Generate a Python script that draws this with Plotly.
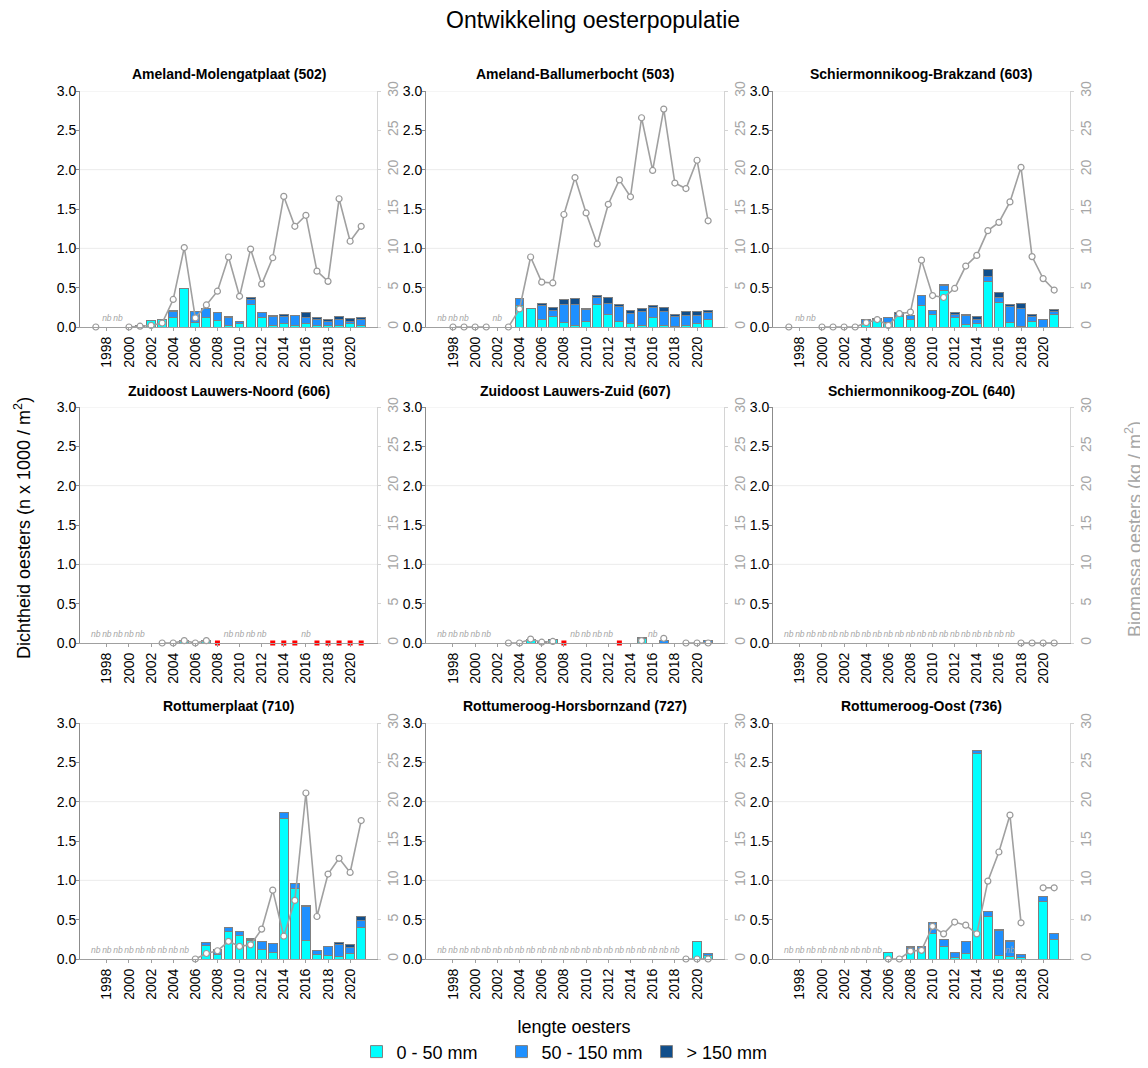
import plotly.graph_objects as go

# years on the x axis (1997 - 2021)
years = list(range(1997, 2022))
N = None

# --- Ameland-Molengatplaat (502) ---
small_502 = [0, N, N, 0, 0, 0.085, 0.10, 0.12, 0.49, 0.055, 0.125, 0.08, 0.015, 0.04, 0.285, 0.12, 0.02, 0.04, 0.015, 0.05, 0.02, 0.015, 0.015, 0.04, 0.02]
mid_502 = [0, N, N, 0, 0.01, 0, 0, 0.08, 0, 0.145, 0.105, 0.105, 0.105, 0.03, 0.065, 0.065, 0.11, 0.09, 0.125, 0.07, 0.08, 0.055, 0.085, 0.035, 0.07]
large_502 = [0, N, N, 0, 0.005, 0, 0, 0.005, 0, 0, 0, 0, 0.01, 0, 0.025, 0, 0.02, 0.035, 0.01, 0.06, 0.025, 0.02, 0.03, 0.035, 0.025]
bio_502 = [0, N, N, 0, 0.1, 0.2, 0.5, 3.5, 10.1, 1.15, 2.8, 4.55, 8.9, 3.9, 9.9, 5.45, 8.8, 16.6, 12.8, 14.2, 7.1, 5.8, 16.3, 10.9, 12.8]
nb_502 = [1998, 1999]
red_502 = []

# --- Ameland-Ballumerbocht (503) ---
small_503 = [N, N, N, 0, 0, N, 0, 0.275, 0.24, 0.095, 0.135, 0.055, 0.02, 0.065, 0.285, 0.16, 0.075, 0.045, 0.015, 0.125, 0.015, 0.005, 0.02, 0.05, 0.10]
mid_503 = [N, N, N, 0, 0, N, 0, 0.09, 0, 0.18, 0.07, 0.235, 0.26, 0.155, 0.095, 0.14, 0.18, 0.125, 0.18, 0.12, 0.185, 0.125, 0.13, 0.10, 0.085]
large_503 = [N, N, N, 0, 0, N, 0, 0, 0, 0.02, 0.045, 0.065, 0.08, 0.02, 0.02, 0.08, 0.03, 0.04, 0.045, 0.025, 0.045, 0.03, 0.045, 0.045, 0.03]
bio_503 = [N, 0, 0, 0, 0, N, 0, 2.3, 8.9, 5.7, 5.6, 14.3, 19.0, 14.5, 10.55, 15.6, 18.7, 16.55, 26.6, 19.9, 27.7, 18.3, 17.6, 21.2, 13.5]
nb_503 = [1997, 1998, 1999, 2002]
red_503 = []

# --- Schiermonnikoog-Brakzand (603) ---
small_603 = [0, N, N, 0, 0, 0, 0, 0.04, 0.095, 0.06, 0.13, 0.10, 0.27, 0.155, 0.46, 0.125, 0.03, 0.045, 0.575, 0.315, 0.06, 0.01, 0.075, 0.0, 0.16]
mid_603 = [0, N, N, 0, 0, 0, 0, 0.05, 0.01, 0.055, 0.03, 0.05, 0.13, 0.06, 0.07, 0.03, 0.11, 0.055, 0.07, 0.065, 0.20, 0.23, 0.06, 0.09, 0.04]
large_603 = [0, N, N, 0, 0, 0, 0, 0.01, 0, 0, 0.02, 0, 0, 0, 0.01, 0.03, 0.02, 0.03, 0.085, 0.06, 0.025, 0.06, 0.025, 0, 0.025]
bio_603 = [0, N, N, 0, 0, 0, 0, 0.55, 0.95, 0.2, 1.7, 1.9, 8.5, 4.0, 3.75, 4.9, 7.75, 9.1, 12.25, 13.3, 15.9, 20.3, 8.95, 6.15, 4.7]
nb_603 = [1998, 1999]
red_603 = []

# --- Zuidoost Lauwers-Noord (606) ---
small_606 = [N, N, N, N, N, N, 0, 0, 0.035, 0, 0.035, N, N, N, N, N, N, N, N, N, N, N, N, N, N]
mid_606 = [N, N, N, N, N, N, 0, 0, 0, 0, 0, N, N, N, N, N, N, N, N, N, N, N, N, N, N]
large_606 = [N, N, N, N, N, N, 0, 0, 0, 0, 0, N, N, N, N, N, N, N, N, N, N, N, N, N, N]
bio_606 = [N, N, N, N, N, N, 0, 0, 0.3, 0, 0.3, N, N, N, N, N, N, N, N, N, N, N, N, N, N]
nb_606 = [1997, 1998, 1999, 2000, 2001, 2009, 2010, 2011, 2012, 2016]
red_606 = [2008, 2013, 2014, 2015, 2017, 2018, 2019, 2020, 2021]

# --- Zuidoost Lauwers-Zuid (607) ---
small_607 = [N, N, N, N, N, N, 0, 0, 0.04, 0, 0.04, N, N, N, N, N, N, N, 0.06, N, 0, N, 0, 0, 0.01]
mid_607 = [N, N, N, N, N, N, 0, 0, 0.01, 0.01, 0, N, N, N, N, N, N, N, 0.015, N, 0.03, N, 0, 0, 0.02]
large_607 = [N, N, N, N, N, N, 0, 0, 0, 0.005, 0, N, N, N, N, N, N, N, 0, N, 0, N, 0, 0, 0]
bio_607 = [N, N, N, N, N, N, 0, 0, 0.5, 0.1, 0.2, N, N, N, N, N, N, N, 0.3, N, 0.6, N, 0, 0, 0]
nb_607 = [1997, 1998, 1999, 2000, 2001, 2009, 2010, 2011, 2012, 2016]
red_607 = [2008, 2013]

# --- Schiermonnikoog-ZOL (640) ---
small_640 = [N] * 21 + [0, 0, 0, 0]
mid_640 = [N] * 21 + [0, 0, 0, 0]
large_640 = [N] * 21 + [0, 0, 0, 0]
bio_640 = [N] * 21 + [0, 0, 0, 0]
nb_640 = list(range(1997, 2018))
red_640 = []

# --- Rottumerplaat (710) ---
small_710 = [N] * 9 + [0, 0.175, 0.06, 0.35, 0.305, 0.235, 0.125, 0.08, 1.785, 0.90, 0.235, 0.055, 0.05, 0.035, 0.065, 0.395]
mid_710 = [N] * 9 + [0, 0.03, 0.04, 0.045, 0.045, 0.01, 0.095, 0.12, 0.075, 0.055, 0.435, 0.05, 0.11, 0.15, 0.085, 0.095]
large_710 = [N] * 9 + [0, 0, 0.015, 0, 0, 0.015, 0.005, 0, 0.005, 0, 0.01, 0.005, 0.005, 0.02, 0.03, 0.055]
bio_710 = [N] * 9 + [0, 0.7, 1.05, 2.25, 1.6, 1.8, 3.8, 8.75, 2.9, 7.45, 21.1, 5.4, 10.8, 12.8, 11.0, 17.6]
nb_710 = list(range(1997, 2006))
red_710 = []

# --- Rottumeroog-Horsbornzand (727) ---
small_727 = [N] * 22 + [0, 0.225, 0.04]
mid_727 = [N] * 22 + [0, 0, 0.024]
large_727 = [N] * 22 + [0, 0, 0]
bio_727 = [N] * 22 + [0, 0, 0]
nb_727 = list(range(1997, 2019))
red_727 = []

# --- Rottumeroog-Oost (736) ---
small_736 = [N] * 9 + [0.08, 0, 0.12, 0.13, 0.33, 0.16, 0.02, 0.065, 2.61, 0.545, 0.045, 0.035, 0.02, N, 0.735, 0.245]
mid_736 = [N] * 9 + [0, 0, 0.03, 0.025, 0.14, 0.085, 0.065, 0.16, 0.04, 0.065, 0.315, 0.19, 0.04, N, 0.06, 0.085]
large_736 = [N] * 9 + [0, 0, 0.005, 0, 0, 0, 0, 0, 0.005, 0, 0.01, 0.005, 0, N, 0, 0]
bio_736 = [N] * 9 + [0, 0, 1.0, 1.1, 4.15, 3.2, 4.7, 4.3, 3.2, 9.9, 13.6, 18.3, 4.6, N, 9.05, 9.05]
nb_736 = list(range(1997, 2006)) + [2017]
red_736 = []

titles = ["Ameland-Molengatplaat (502)", "Ameland-Ballumerbocht (503)", "Schiermonnikoog-Brakzand (603)",
          "Zuidoost Lauwers-Noord (606)", "Zuidoost Lauwers-Zuid (607)", "Schiermonnikoog-ZOL (640)",
          "Rottumerplaat (710)", "Rottumeroog-Horsbornzand (727)", "Rottumeroog-Oost (736)"]
panels = [
    (small_502, mid_502, large_502, bio_502, nb_502, red_502),
    (small_503, mid_503, large_503, bio_503, nb_503, red_503),
    (small_603, mid_603, large_603, bio_603, nb_603, red_603),
    (small_606, mid_606, large_606, bio_606, nb_606, red_606),
    (small_607, mid_607, large_607, bio_607, nb_607, red_607),
    (small_640, mid_640, large_640, bio_640, nb_640, red_640),
    (small_710, mid_710, large_710, bio_710, nb_710, red_710),
    (small_727, mid_727, large_727, bio_727, nb_727, red_727),
    (small_736, mid_736, large_736, bio_736, nb_736, red_736),
]
size_names = ["0 - 50 mm", "50 - 150 mm", "> 150 mm"]
size_colors = ["#00FFFF", "#1E90FF", "#104E8B"]

W, H = 1148, 1068
OFF = 8  # page body margin of the html page
FONT = "Liberation Sans, Arial, sans-serif"
cols_px = [(80, 377), (426, 724), (773, 1070)]
rows_px = [(91, 327), (407, 643), (723, 959)]
title_y_px = [74, 391, 706]


def px_x(x):
    return (x - OFF) / W


def px_y(y):
    return 1 - (y - OFF) / H


fig = go.Figure()
layout = {}
annotations = []
shapes = []

for i, (small, mid, large, bio, nb, red) in enumerate(panels):
    r, c = divmod(i, 3)
    xn = "x" if i == 0 else f"x{i + 1}"
    yl = f"y{2 * i + 1}" if i else "y"
    yr = f"y{2 * i + 2}"
    x0, x1 = cols_px[c]
    ytop, ybot = rows_px[r]

    for vals, name, col in zip((small, mid, large), size_names, size_colors):
        fig.add_trace(go.Bar(
            x=years, y=vals, name=name, xaxis=xn, yaxis=yl,
            marker=dict(color=col, line=dict(color="#808080", width=1)),
            width=0.8, legendgroup=name, showlegend=(i == 0),
            hoverinfo="skip",
        ))

    fig.add_trace(go.Scatter(
        x=nb, y=[0.1] * len(nb), mode="text", text=["nb"] * len(nb),
        textfont=dict(size=8.5, color="#a6a6a6", style="italic", family=FONT),
        xaxis=xn, yaxis=yl, showlegend=False, cliponaxis=False, hoverinfo="skip",
    ))

    fig.add_trace(go.Scatter(
        x=years, y=bio, mode="lines+markers", xaxis=xn, yaxis=yr,
        line=dict(color="#a0a0a0", width=1.6),
        marker=dict(symbol="circle", size=6, color="white", line=dict(color="#999999", width=1.2)),
        showlegend=False, cliponaxis=False, connectgaps=False,
    ))

    if red:
        fig.add_trace(go.Scatter(
            x=red, y=[0] * len(red), mode="markers", xaxis=xn, yaxis=yl,
            marker=dict(symbol="square", size=5, color="red"),
            showlegend=False, cliponaxis=False,
        ))

    xkey = "xaxis" if i == 0 else f"xaxis{i + 1}"
    ylkey = "yaxis" if i == 0 else f"yaxis{2 * i + 1}"
    yrkey = f"yaxis{2 * i + 2}"
    layout[xkey] = dict(
        domain=[px_x(x0), px_x(x1)], anchor=yl, range=[1995.57, 2022.43],
        tickvals=list(range(1998, 2021, 2)), tickangle=-90,
        tickfont=dict(size=14, color="black", family=FONT),
        showgrid=False, zeroline=False, showline=True, linecolor="#a0a0a0", linewidth=1,
        ticks="outside", ticklen=3, tickcolor="#a0a0a0", automargin=False,
    )
    layout[ylkey] = dict(
        domain=[px_y(ybot), px_y(ytop)], anchor=xn, range=[0, 3],
        tickvals=[0, 0.5, 1, 1.5, 2, 2.5, 3], tickformat=".1f",
        tickfont=dict(size=14, color="black", family=FONT),
        showgrid=False, zeroline=False, showline=True, linecolor="#8c8c8c", linewidth=1,
        ticks="outside", ticklen=3, tickcolor="#8c8c8c", automargin=False,
        ticklabelstandoff=-3,
    )
    layout[yrkey] = dict(
        overlaying=yl, side="right", anchor=xn, range=[0, 30],
        tickvals=[0, 5, 10, 15, 20, 25, 30], tickangle=-90,
        tickfont=dict(size=14, color="#a6a6a6", family=FONT),
        showgrid=False, zeroline=False, showline=True, linecolor="#d4d4d4", linewidth=1,
        ticks="outside", ticklen=3, tickcolor="#d4d4d4", automargin=False,
    )

    for gy in (1, 2, 3):
        shapes.append(dict(type="line", xref=f"{xn} domain", yref=yl, x0=0, x1=1, y0=gy, y1=gy,
                           line=dict(color="#ebebeb", width=1), layer="below"))

    annotations.append(dict(
        text=f"<b>{titles[i]}</b>", x=px_x((x0 + x1) / 2), y=px_y(title_y_px[r]),
        xref="paper", yref="paper", showarrow=False, xanchor="center", yanchor="middle",
        font=dict(size=14, color="black", family=FONT),
    ))

annotations.append(dict(
    text="Ontwikkeling oesterpopulatie", x=px_x(593), y=px_y(20), xref="paper", yref="paper",
    showarrow=False, xanchor="center", yanchor="middle", font=dict(size=23, color="black", family=FONT),
))
annotations.append(dict(
    text="Dichtheid oesters (n x 1000 / m<sup>2</sup>)", x=px_x(22), y=px_y(528), xref="paper", yref="paper",
    showarrow=False, textangle=-90, xanchor="center", yanchor="middle",
    font=dict(size=18, color="black", family=FONT),
))
annotations.append(dict(
    text="Biomassa oesters (kg / m<sup>2</sup>)", x=px_x(1133), y=px_y(529), xref="paper", yref="paper",
    showarrow=False, textangle=-90, xanchor="center", yanchor="middle",
    font=dict(size=18, color="#a6a6a6", family=FONT),
))

fig.update_layout(
    **layout,
    width=W, height=H, barmode="stack", bargap=0.2,
    margin=dict(l=0, r=0, t=0, b=0, autoexpand=False),
    paper_bgcolor="white", plot_bgcolor="white",
    font=dict(family=FONT, color="black"),
    annotations=annotations, shapes=shapes,
    legend=dict(
        orientation="h", x=px_x(574), xanchor="center", y=px_y(1010), yanchor="top",
        title=dict(text="lengte oesters", side="top center", font=dict(size=18)),
        font=dict(size=18, color="black"), entrywidth=100,
        tracegroupgap=0,
    ),
)

fig.write_html("out.html")
